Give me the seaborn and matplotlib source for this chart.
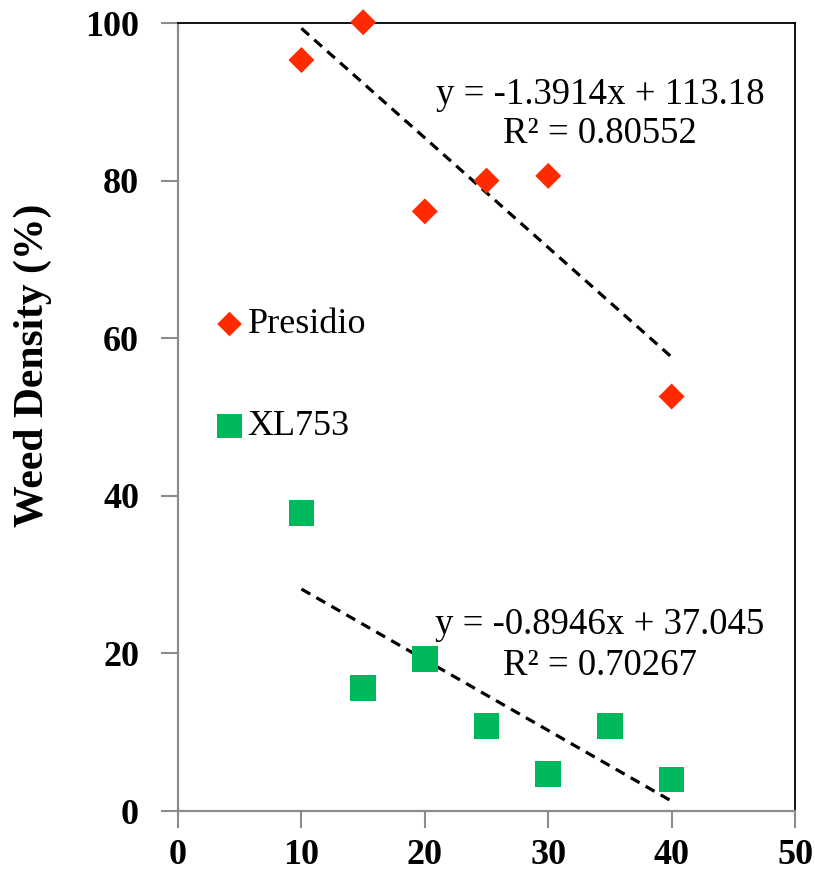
import numpy as np
import pandas as pd
import matplotlib
matplotlib.use("Agg")
import matplotlib.pyplot as plt
import seaborn as sns

# Data
presidio_x = [10, 15, 20, 25, 30, 40]
presidio_y = [95.3, 100.1, 76.1, 80.0, 80.6, 52.6]
xl753_x = [10, 15, 20, 25, 30, 35, 40]
xl753_y = [37.8, 15.6, 19.3, 10.8, 4.7, 10.8, 4.0]
series_names = ["Presidio", "XL753"]
eq_presidio = ["y = -1.3914x + 113.18", "R\u00b2 = 0.80552"]
eq_xl753 = ["y = -0.8946x + 37.045", "R\u00b2 = 0.70267"]
x_ticks = [0, 10, 20, 30, 40, 50]
y_ticks = [0, 20, 40, 60, 80, 100]

sns.set_style("white")
plt.rcParams["font.family"] = ["Liberation Serif", "DejaVu Serif"]
plt.rcParams["text.color"] = "black"
plt.rcParams["axes.labelcolor"] = "black"
plt.rcParams["xtick.color"] = "black"
plt.rcParams["ytick.color"] = "black"

fig = plt.figure(figsize=(8.15, 8.75), dpi=100)
ax = fig.add_axes([0.2184, 0.0731, 0.7571, 0.9006])

red = "#FF2A00"
green = "#00B85C"

df_p = pd.DataFrame({"x": presidio_x, "y": presidio_y})
df_x = pd.DataFrame({"x": xl753_x, "y": xl753_y})

line_kws = dict(color="black", lw=2.3, ls=(0, (3.2, 2.2)))
sns.regplot(data=df_p, x="x", y="y", ax=ax, scatter=False, ci=None,
            truncate=True, line_kws=line_kws)
sns.regplot(data=df_x, x="x", y="y", ax=ax, scatter=False, ci=None,
            truncate=True, line_kws=line_kws)

sns.scatterplot(data=df_p, x="x", y="y", ax=ax, marker="D", s=175,
                color=red, edgecolor="none", label=series_names[0],
                zorder=3, clip_on=False)
sns.scatterplot(data=df_x, x="x", y="y", ax=ax, marker="s", s=340,
                color=green, edgecolor="none", label=series_names[1],
                zorder=3, clip_on=False)

ax.set_xlim(0, 50)
ax.set_ylim(0, 100)
ax.set_xticks(x_ticks)
ax.set_yticks(y_ticks)
ax.set_xticklabels([str(v) for v in x_ticks], fontsize=26, fontweight="bold")
ax.set_yticklabels([str(v) for v in y_ticks], fontsize=26, fontweight="bold")
ax.tick_params(axis="both", direction="out", length=12, width=1.5,
               color="#8c8c8c", labelcolor="black", bottom=True, left=True)
ax.tick_params(axis="y", pad=16)
ax.tick_params(axis="x", pad=8)
ax.set_xlabel("")
ax.set_ylabel("Weed Density (%)", fontsize=30, fontweight="bold")
ax.yaxis.set_label_coords(-0.205, 0.566)

for side in ["left", "bottom"]:
    ax.spines[side].set_color("#8c8c8c")
    ax.spines[side].set_linewidth(1.6)
for side in ["top", "right"]:
    ax.spines[side].set_color("black")
    ax.spines[side].set_linewidth(1.3)

ax.text(34.2, 90.9, eq_presidio[0], fontsize=26.5, ha="center", va="center")
ax.text(34.2, 86.0, eq_presidio[1], fontsize=26.5, ha="center", va="center")
ax.text(34.2, 23.6, eq_xl753[0], fontsize=26.5, ha="center", va="center")
ax.text(34.2, 18.5, eq_xl753[1], fontsize=26.5, ha="center", va="center")

leg = ax.legend(loc="upper left", bbox_to_anchor=(0.025, 0.661),
                frameon=False, fontsize=26, handletextpad=0.0,
                labelspacing=1.9, handlelength=1.0, borderpad=0,
                markerscale=0.95)

fig.savefig("out.png", dpi=100)
